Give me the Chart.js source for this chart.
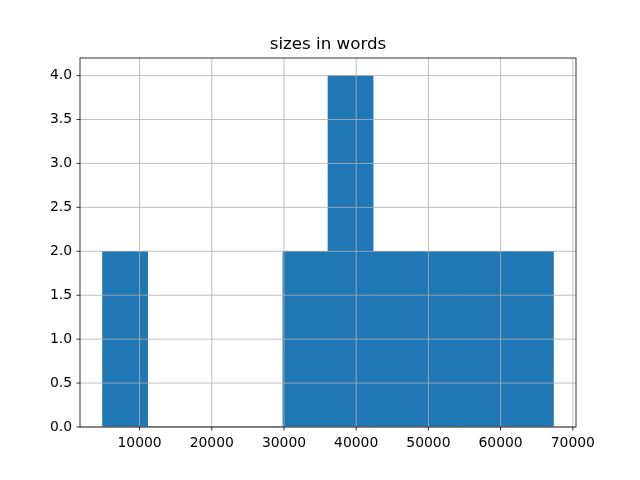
<!DOCTYPE html>
<html>
<head>
<meta charset="utf-8">
<script src="https://cdn.jsdelivr.net/npm/chart.js@4/dist/chart.umd.min.js"></script>
<style>
html,body{margin:0;padding:0;background:#fff;}
#wrap{width:640px;height:480px;}
</style>
</head>
<body>
<div id="wrap"><canvas id="c" width="640" height="480"></canvas></div>
<script>
const chartTitle = "sizes in words";
const binEdges = [4870, 11115, 17360, 23605, 29850, 36095, 42340, 48585, 54830, 61075, 67320];
const counts = [2, 0, 0, 0, 2, 4, 2, 2, 2, 2];
const xTicks = [10000, 20000, 30000, 40000, 50000, 60000, 70000];
const yTicks = [0, 0.5, 1.0, 1.5, 2.0, 2.5, 3.0, 3.5, 4.0];

const points = counts.map((c, i) => ({x: (binEdges[i] + binEdges[i + 1]) / 2, y: c}));
const lo = binEdges[0], hi = binEdges[binEdges.length - 1];
const pad = (hi - lo) * 0.05;

const FONT = "'DejaVu Sans', sans-serif";

const overlay = {
  id: 'overlay',
  afterDatasetsDraw(chart) {
    const ctx = chart.ctx, a = chart.chartArea;
    const xs = chart.scales.x, ys = chart.scales.y;
    ctx.save();
    ctx.strokeStyle = '#b0b0b0';
    ctx.lineWidth = 0.8;
    xTicks.forEach(v => {
      const px = xs.getPixelForValue(v);
      ctx.beginPath(); ctx.moveTo(px, a.top); ctx.lineTo(px, a.bottom); ctx.stroke();
    });
    yTicks.forEach(v => {
      const py = ys.getPixelForValue(v);
      ctx.beginPath(); ctx.moveTo(a.left, py); ctx.lineTo(a.right, py); ctx.stroke();
    });
    ctx.strokeStyle = '#000';
    ctx.lineWidth = 0.8;
    ctx.strokeRect(a.left, a.top, a.right - a.left, a.bottom - a.top);
    xTicks.forEach(v => {
      const px = xs.getPixelForValue(v);
      ctx.beginPath(); ctx.moveTo(px, a.bottom); ctx.lineTo(px, a.bottom + 3.5); ctx.stroke();
    });
    yTicks.forEach(v => {
      const py = ys.getPixelForValue(v);
      ctx.beginPath(); ctx.moveTo(a.left, py); ctx.lineTo(a.left - 3.5, py); ctx.stroke();
    });
    ctx.fillStyle = '#000';
    ctx.font = "16.7px 'DejaVu Sans', sans-serif";
    ctx.textAlign = 'center';
    ctx.textBaseline = 'alphabetic';
    ctx.fillText(chartTitle, (a.left + a.right) / 2, a.top - 9);
    ctx.restore();
  }
};

new Chart(document.getElementById('c'), {
  type: 'bar',
  data: {
    datasets: [{
      data: points,
      backgroundColor: '#1f77b4',
      borderWidth: 0,
      barPercentage: 1.0,
      categoryPercentage: 1.0
    }]
  },
  options: {
    responsive: false,
    animation: false,
    devicePixelRatio: 1,
    layout: {padding: {left: 0, right: 64, top: 58, bottom: 0}},
    plugins: {
      legend: {display: false},
      tooltip: {enabled: false},
      title: {display: false}
    },
    scales: {
      x: {
        type: 'linear',
        offset: false,
        min: lo - pad,
        max: hi + pad,
        afterBuildTicks(s) { s.ticks = xTicks.map(v => ({value: v})); },
        afterFit(s) { s.height = 53; },
        grid: {display: true, offset: false, color: 'rgba(0,0,0,0)', drawTicks: true, tickLength: 4},
        border: {display: false},
        ticks: {
          color: '#000', font: {family: FONT, size: 13.9}, padding: 4,
          maxRotation: 0, autoSkip: false,
          callback: v => String(v)
        }
      },
      y: {
        type: 'linear',
        min: 0,
        max: 4.2,
        afterBuildTicks(s) { s.ticks = yTicks.map(v => ({value: v})); },
        afterFit(s) { s.width = 80; },
        grid: {display: true, color: 'rgba(0,0,0,0)', drawTicks: true, tickLength: 4},
        border: {display: false},
        ticks: {
          color: '#000', font: {family: FONT, size: 13.9}, padding: 4,
          autoSkip: false,
          callback: v => Number(v).toFixed(1)
        }
      }
    }
  },
  plugins: [overlay]
});
</script>
</body>
</html>
